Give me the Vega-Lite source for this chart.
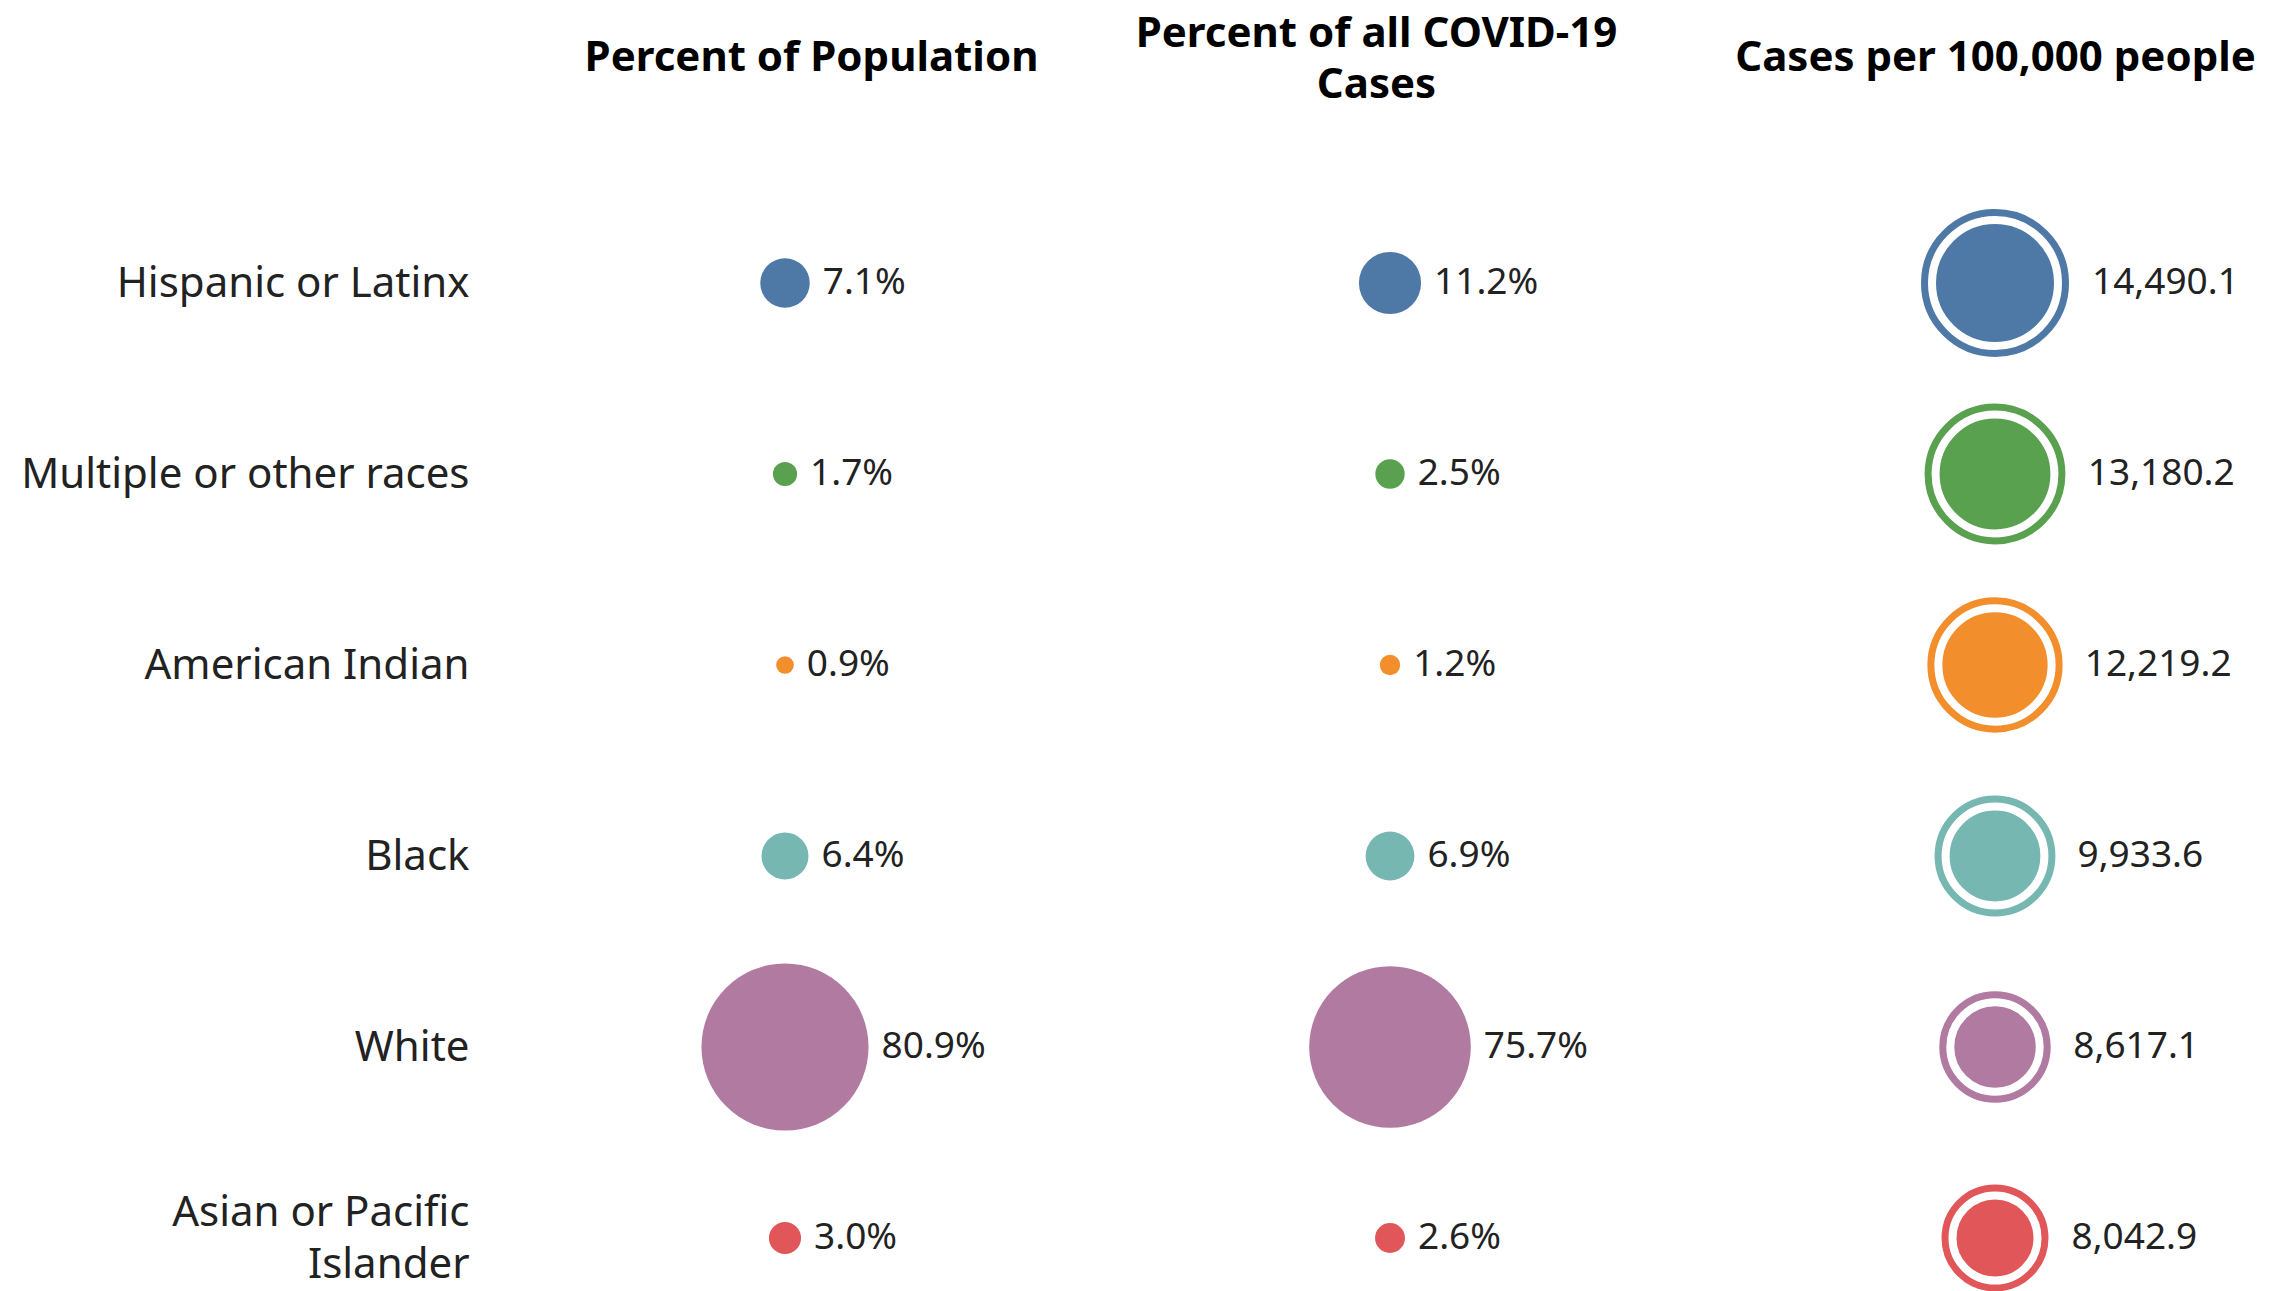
{
  "$schema": "https://vega.github.io/schema/vega-lite/v6.json",
  "autosize": {"type": "none"},
  "padding": {"left": 480, "top": 150, "right": 0, "bottom": 0},
  "width": 1795,
  "height": 1141,
  "background": "white",
  "config": {"view": {"stroke": null}, "font": "Noto Sans"},
  "data": {
    "values": [
      {"race": "Hispanic or Latinx", "pop": 0.071, "cases": 0.112, "rate": 14490.1},
      {"race": "Multiple or other races", "pop": 0.017, "cases": 0.025, "rate": 13180.2},
      {"race": "American Indian", "pop": 0.009, "cases": 0.012, "rate": 12219.2},
      {"race": "Black", "pop": 0.064, "cases": 0.069, "rate": 9933.6},
      {"race": "White", "pop": 0.809, "cases": 0.757, "rate": 8617.1},
      {"race": "Asian or Pacific Islander", "pop": 0.030, "cases": 0.026, "rate": 8042.9}
    ]
  },
  "encoding": {
    "y": {
      "field": "race",
      "type": "nominal",
      "sort": ["Hispanic or Latinx", "Multiple or other races", "American Indian", "Black", "White", "Asian or Pacific Islander"],
      "scale": {"type": "point", "padding": 0, "range": [133, 1088]},
      "axis": {
        "title": null,
        "domain": false,
        "ticks": false,
        "tickSize": 0,
        "grid": false,
        "labelPadding": 11,
        "labelFont": "Noto Sans",
        "labelFontSize": 42,
        "labelColor": "#222222",
        "labelLimit": 0,
        "labelLineHeight": 52,
        "labelAlign": "right",
        "labelBaseline": "middle",
        "labelOffset": {"condition": {"test": "datum.value == 'Asian or Pacific Islander'", "value": -26}, "value": 0},
        "labelExpr": "datum.label == 'Asian or Pacific Islander' ? ['Asian or Pacific', 'Islander'] : datum.label"
      }
    },
    "color": {
      "field": "race",
      "type": "nominal",
      "scale": {
        "domain": ["Hispanic or Latinx", "Multiple or other races", "American Indian", "Black", "White", "Asian or Pacific Islander"],
        "range": ["#4E79A7", "#59A14F", "#F28E2B", "#76B7B2", "#B07AA1", "#E15759"]
      },
      "legend": null
    }
  },
  "layer": [
    {
      "mark": {"type": "point", "shape": "circle", "filled": true, "opacity": 1},
      "encoding": {
        "x": {
          "datum": "Percent of Population",
          "type": "nominal",
          "scale": {"type": "point", "padding": 0, "domain": ["Percent of Population", "Percent of all COVID-19 Cases", "Cases per 100,000 people"], "range": [305, 1515]},
          "axis": {
            "orient": "top",
            "title": null,
            "domain": false,
            "ticks": false,
            "tickSize": 0,
            "grid": false,
            "labelAngle": 0,
            "labelPadding": {"condition": {"test": "datum.value == 'Percent of all COVID-19 Cases'", "value": 117}, "value": 93},
            "labelFont": "Noto Sans",
            "labelFontSize": 42,
            "labelFontWeight": "bold",
            "labelColor": "#000000",
            "labelLimit": 0,
            "labelOverlap": false,
            "labelBaseline": "middle",
            "labelLineHeight": 51,
            "labelOffset": {"condition": [{"test": "datum.value == 'Percent of Population'", "value": 26}, {"test": "datum.value == 'Percent of all COVID-19 Cases'", "value": -14}], "value": 0},
            "labelExpr": "datum.label == 'Percent of all COVID-19 Cases' ? ['Percent of all COVID-19', 'Cases'] : datum.label"
          }
        },
        "size": {"field": "pop", "type": "quantitative", "scale": {"domain": [0, 1], "range": [0, 34500]}, "legend": null}
      }
    },
    {
      "mark": {"type": "text", "align": "left", "baseline": "middle", "dx": 13, "fontSize": 37, "font": "Noto Sans"},
      "encoding": {
        "x": {"datum": "Percent of Population", "type": "nominal"},
        "xOffset": {"field": "pop", "type": "quantitative", "scale": {"type": "sqrt", "domain": [0, 1], "range": [0, 92.9]}},
        "text": {"field": "pop", "type": "quantitative", "format": ".1%"},
        "color": {"value": "#222222"}
      }
    },
    {
      "mark": {"type": "point", "shape": "circle", "filled": true, "opacity": 1},
      "encoding": {
        "x": {"datum": "Percent of all COVID-19 Cases", "type": "nominal"},
        "size": {"field": "cases", "type": "quantitative", "scale": {"domain": [0, 1], "range": [0, 34500]}, "legend": null}
      }
    },
    {
      "mark": {"type": "text", "align": "left", "baseline": "middle", "dx": 13, "fontSize": 37, "font": "Noto Sans"},
      "encoding": {
        "x": {"datum": "Percent of all COVID-19 Cases", "type": "nominal"},
        "xOffset": {"field": "cases", "type": "quantitative", "scale": {"type": "sqrt", "domain": [0, 1], "range": [0, 92.9]}},
        "text": {"field": "cases", "type": "quantitative", "format": ".1%"},
        "color": {"value": "#222222"}
      }
    },
    {
      "mark": {"type": "point", "shape": "circle", "filled": true, "opacity": 1, "strokeWidth": 22},
      "encoding": {
        "x": {"datum": "Cases per 100,000 people", "type": "nominal"},
        "size": {"field": "rate", "type": "quantitative", "scale": {"zero": false, "domain": [8042.9, 14490.1], "range": [7225, 15876]}, "legend": null},
        "stroke": {
          "field": "race",
          "type": "nominal",
          "scale": {
            "domain": ["Hispanic or Latinx", "Multiple or other races", "American Indian", "Black", "White", "Asian or Pacific Islander"],
            "range": ["#4E79A7", "#59A14F", "#F28E2B", "#76B7B2", "#B07AA1", "#E15759"]
          },
          "legend": null
        }
      }
    },
    {
      "mark": {"type": "point", "shape": "circle", "filled": true, "opacity": 1, "stroke": "#ffffff", "strokeWidth": 8},
      "encoding": {
        "x": {"datum": "Cases per 100,000 people", "type": "nominal"},
        "size": {"field": "rate", "type": "quantitative", "scale": {"zero": false, "domain": [8042.9, 14490.1], "range": [7225, 15876]}, "legend": null}
      }
    },
    {
      "mark": {"type": "text", "align": "left", "baseline": "middle", "dx": 34, "fontSize": 37, "font": "Noto Sans"},
      "encoding": {
        "x": {"datum": "Cases per 100,000 people", "type": "nominal"},
        "xOffset": {"field": "rate", "type": "quantitative", "scale": {"zero": false, "domain": [8042.9, 14490.1], "range": [42.5, 63]}},
        "text": {"field": "rate", "type": "quantitative", "format": ",.1f"},
        "color": {"value": "#222222"}
      }
    }
  ],
  "resolve": {"scale": {"size": "independent", "xOffset": "independent"}}
}
